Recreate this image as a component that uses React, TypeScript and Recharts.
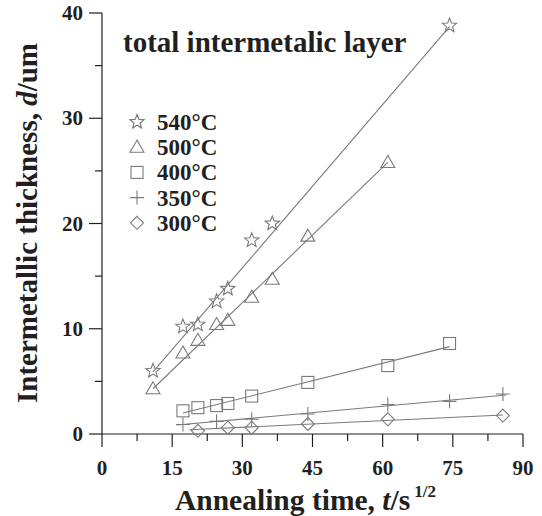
import { ScatterChart, Scatter, XAxis, YAxis } from "recharts";

// sqrt(t) positions and thickness readings per temperature
const x540 = [10.9, 17.3, 20.5, 24.5, 26.9, 32.0, 36.4, 74.3];
const y540 = [6.0, 10.2, 10.4, 12.6, 13.8, 18.4, 20.0, 38.8];
const x500 = [10.9, 17.3, 20.5, 24.5, 26.9, 32.0, 36.4, 44.0, 61.1];
const y500 = [4.3, 7.7, 8.9, 10.4, 10.8, 13.0, 14.7, 18.8, 25.8];
const x400 = [17.3, 20.5, 24.5, 26.9, 32.0, 44.0, 61.1, 74.3];
const y400 = [2.2, 2.5, 2.7, 2.9, 3.6, 4.9, 6.5, 8.6];
const x350 = [17.3, 24.5, 32.0, 44.0, 61.1, 74.3, 85.7];
const y350 = [0.9, 1.2, 1.4, 1.9, 2.8, 3.1, 3.8];
const x300 = [20.5, 26.9, 32.0, 44.0, 61.1, 85.7];
const y300 = [0.3, 0.6, 0.6, 0.95, 1.4, 1.75];

// linear fit end points
const fitX540 = [10.9, 74.3];
const fitY540 = [5.9, 38.7];
const fitX500 = [10.9, 61.1];
const fitY500 = [4.3, 25.8];
const fitX400 = [17.3, 74.3];
const fitY400 = [2.0, 8.3];
const fitX350 = [16.0, 86.4];
const fitY350 = [0.85, 3.7];
const fitX300 = [18.7, 85.7];
const fitY300 = [0.4, 1.8];

const labels = ["540°C", "500°C", "400°C", "350°C", "300°C"];
const majorX = [0, 15, 30, 45, 60, 75, 90];
const minorX = [7.5, 22.5, 37.5, 52.5, 67.5, 82.5];
const majorY = [0, 10, 20, 30, 40];
const minorY = [5, 15, 25, 35];

const ink = "#231f20";
const grey = "#7a7a7a";
const serif = '"Liberation Serif", "Times New Roman", serif';

const zip = (xs: number[], ys: number[]) => xs.map((x, i) => ({ x, y: ys[i] }));

type Kind = "star" | "tri" | "square" | "plus" | "diamond";
const kinds: Kind[] = ["star", "tri", "square", "plus", "diamond"];

function Marker({ kind, cx, cy }: { kind: Kind; cx: number; cy: number }) {
  const p = { fill: "none", stroke: grey, strokeWidth: 1.1 };
  if (kind === "star") {
    const pts: string[] = [];
    for (let i = 0; i < 10; i++) {
      const r = i % 2 === 0 ? 7.5 : 3.2;
      const a = -Math.PI / 2 + (i * Math.PI) / 5;
      pts.push(`${cx + r * Math.cos(a)},${cy + r * Math.sin(a)}`);
    }
    return <polygon points={pts.join(" ")} {...p} />;
  }
  if (kind === "tri")
    return <polygon points={`${cx},${cy - 7} ${cx - 7},${cy + 5} ${cx + 7},${cy + 5}`} {...p} />;
  if (kind === "square")
    return <rect x={cx - 6} y={cy - 6} width={12} height={12} {...p} />;
  if (kind === "plus")
    return <path d={`M${cx - 7},${cy}H${cx + 7}M${cx},${cy - 7}V${cy + 7}`} {...p} />;
  return <polygon points={`${cx},${cy - 6.5} ${cx + 6.5},${cy} ${cx},${cy + 6.5} ${cx - 6.5},${cy}`} {...p} />;
}

const shapeFor = (kind: Kind) => (props: any) => <Marker kind={kind} cx={props.cx} cy={props.cy} />;
const noShape = () => <g />;

function XTick(props: any) {
  const { x, y, payload } = props;
  const major = majorX.includes(payload.value);
  return (
    <g>
      <line x1={x} x2={x} y1={y} y2={y + (major ? 13 : 7)} stroke={ink} strokeWidth={1.2} />
      {major && (
        <text x={x} y={y + 41} textAnchor="middle" fontFamily={serif} fontWeight="bold" fontSize={21} fill={ink}>
          {payload.value}
        </text>
      )}
    </g>
  );
}

function YTick(props: any) {
  const { x, y, payload } = props;
  const major = majorY.includes(payload.value);
  return (
    <g>
      <line x1={x} x2={x - (major ? 13 : 7)} y1={y} y2={y} stroke={ink} strokeWidth={1.2} />
      {major && (
        <text x={x - 19} y={y + 7} textAnchor="end" fontFamily={serif} fontWeight="bold" fontSize={21} fill={ink}>
          {payload.value}
        </text>
      )}
    </g>
  );
}

function Overlay() {
  return (
    <svg width={542} height={260} style={{ position: "absolute", left: 0, top: 0, pointerEvents: "none" }}>
      <text x={123} y={52} fontFamily={serif} fontWeight="bold" fontSize={29} fill={ink}>
        total intermetalic layer
      </text>
      {labels.map((t, i) => {
        const cy = 122 + i * 25.2;
        return (
          <g key={t}>
            <Marker kind={kinds[i]} cx={137} cy={cy} />
            <text x={157} y={cy + 8} fontFamily={serif} fontWeight="bold" fontSize={23} fill={ink}>
              {t}
            </text>
          </g>
        );
      })}
    </svg>
  );
}

export default function App() {
  const series = [
    { pts: zip(x540, y540), fit: zip(fitX540, fitY540) },
    { pts: zip(x500, y500), fit: zip(fitX500, fitY500) },
    { pts: zip(x400, y400), fit: zip(fitX400, fitY400) },
    { pts: zip(x350, y350), fit: zip(fitX350, fitY350) },
    { pts: zip(x300, y300), fit: zip(fitX300, fitY300) },
  ];

  return (
    <div style={{ position: "absolute", left: 0, top: 0, width: 542, height: 516, background: "#fff" }}>
      <ScatterChart width={542} height={516} margin={{ top: 13, right: 19, left: 40, bottom: 42 }}>
        <XAxis
          type="number"
          dataKey="x"
          domain={[0, 90]}
          ticks={[...majorX, ...minorX].sort((a, b) => a - b)}
          interval={0}
          tickSize={0}
          tickMargin={0}
          tickLine={false}
          tick={<XTick />}
          height={40}
          axisLine={{ stroke: ink, strokeWidth: 1.2 }}
          label={{
            content: () => (
              <text x={175} y={510} fontFamily={serif} fontWeight="bold" fontSize={29.5} fill={ink}>
                Annealing time, <tspan fontStyle="italic">t</tspan>/s
                <tspan fontSize={17} dx={4} dy={-13}>1/2</tspan>
              </text>
            ),
          }}
        />
        <XAxis xAxisId="top" type="number" orientation="top" domain={[0, 90]} tick={false} tickLine={false} height={0} axisLine={{ stroke: ink, strokeWidth: 1.2 }} />
        <YAxis
          type="number"
          dataKey="y"
          domain={[0, 40]}
          ticks={[...majorY, ...minorY].sort((a, b) => a - b)}
          interval={0}
          tickSize={0}
          tickMargin={0}
          tickLine={false}
          tick={<YTick />}
          width={62}
          axisLine={{ stroke: ink, strokeWidth: 1.2 }}
          label={{
            content: () => (
              <text
                x={27}
                y={223}
                transform="rotate(-90 27 223)"
                textAnchor="middle"
                dominantBaseline="central"
                fontFamily={serif}
                fontWeight="bold"
                fontSize={29}
                fill={ink}
              >
                Intermetallic thickness, <tspan fontStyle="italic">d</tspan>/um
              </text>
            ),
          }}
        />
        <YAxis yAxisId="right" type="number" orientation="right" domain={[0, 40]} tick={false} tickLine={false} width={0} axisLine={{ stroke: ink, strokeWidth: 1.2 }} />
        {series.map((s, i) => (
          <Scatter
            key={`fit${i}`}
            data={s.fit}
            line={{ stroke: grey, strokeWidth: 1.1 }}
            lineType="joint"
            shape={noShape}
            legendType="none"
            isAnimationActive={false}
          />
        ))}
        {series.map((s, i) => (
          <Scatter key={`pts${i}`} name={labels[i]} data={s.pts} shape={shapeFor(kinds[i])} isAnimationActive={false} />
        ))}
      </ScatterChart>
      <Overlay />
    </div>
  );
}
